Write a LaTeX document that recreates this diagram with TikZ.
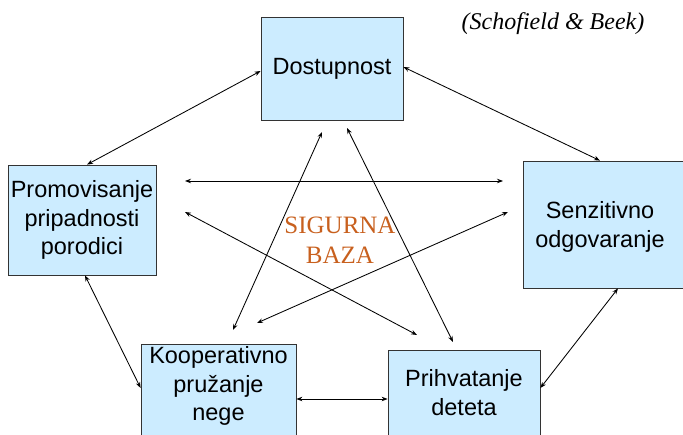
\documentclass[tikz,border=0pt]{standalone}
\usepackage{fontspec}
\setmainfont{Liberation Sans}
\newfontfamily\serifrm{Liberation Serif}
\usetikzlibrary{arrows.meta,bending}
\definecolor{boxblue}{HTML}{CCECFF}
\definecolor{bazaorange}{HTML}{C8601E}

\begin{document}
\begin{tikzpicture}[x=1pt,y=-1pt,
    arj/.style={line width=0.85pt,{Stealth[length=6pt,width=4.5pt]}-{Stealth[length=6pt,width=4.5pt]}},
    kutija/.style={draw=black!80,thick,fill=boxblue,inner sep=0pt},
    tekst/.style={align=center,font=\fontsize{23.5}{28.5}\selectfont}]
\useasboundingbox (0,0) rectangle (683,435);
% boxes
\node[kutija,tekst,minimum width=142pt,minimum height=103pt] (dost) at (332,68.5) {Dostupnost};
\node[kutija,tekst,minimum width=148pt,minimum height=110pt] (prom) at (82,220) {Promovisanje\\pripadnosti\\porodici};
\node[kutija,minimum width=167pt,minimum height=127pt] (sen) at (606.5,224.5) {};
\node[tekst] (senT) at (600,227) {Senzitivno\\odgovaranje};
\node[kutija,minimum width=155pt,minimum height=101pt] (koop) at (218.5,394.5) {};
\node[tekst] (koopT) at (218.5,386) {Kooperativno\\pružanje\\nege};
\node[kutija,minimum width=152pt,minimum height=95pt] (prih) at (464,397.5) {};
\node[tekst] (prihT) at (464,392.5) {Prihvatanje\\deteta};
% labels
\node[font=\serifrm\itshape\fontsize{24}{28}\selectfont] (izvor) at (553,24) {(Schofield \& Beek)};
\node[font=\serifrm\fontsize{25}{30}\selectfont,text=bazaorange,align=center] (baza) at (340,240) {SIGURNA\\BAZA};
% free ends of the star
\coordinate (h1) at (185,181); \coordinate (h2) at (503,181);
\coordinate (p1) at (185,212); \coordinate (p2) at (417,335);
\coordinate (s1) at (508,212); \coordinate (s2) at (257,323);
\coordinate (d1) at (322,132); \coordinate (k1) at (233,330);
\coordinate (d2) at (347,128); \coordinate (r1) at (453,342);
% connectors
\draw[arj] ([yshift=-2.5pt]dost.west) -- ([xshift=5pt]prom.north);
\draw[arj] ([yshift=1.5pt]dost.east) -- ([xshift=-6.5pt]sen.north);
\draw[arj] (h1) -- (h2);
\draw[arj] (p1) -- (p2);
\draw[arj] (s1) -- (s2);
\draw[arj] (d1) -- (k1);
\draw[arj] (d2) -- (r1);
\draw[arj] ([xshift=3pt]prom.south) -- ([yshift=6.5pt]koop.west);
\draw[arj] ([yshift=-4.5pt]koop.east) -- ([yshift=-1.5pt]prih.west);
\draw[arj] ([yshift=9.5pt]prih.east) -- ([xshift=11.5pt]sen.south);
\end{tikzpicture}
\end{document}
